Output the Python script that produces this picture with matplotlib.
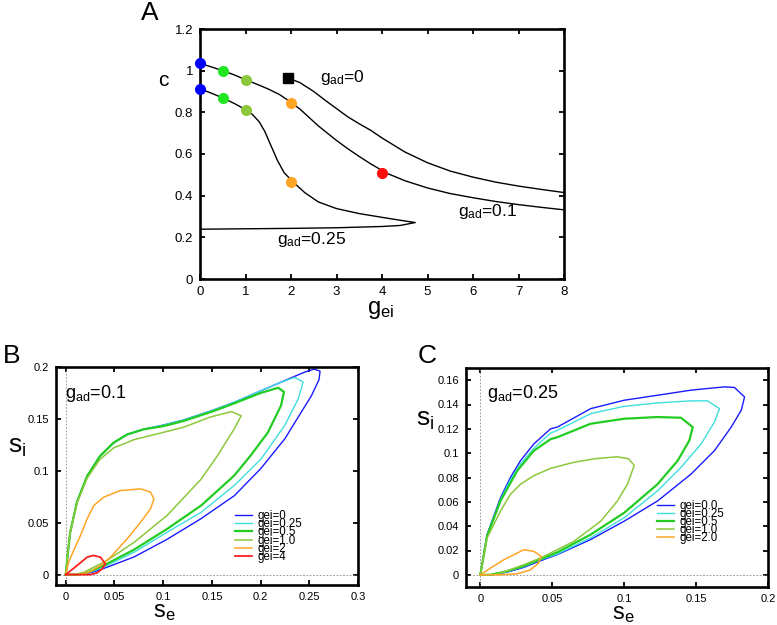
import matplotlib
matplotlib.use("Agg")
import matplotlib.pyplot as plt
from matplotlib.ticker import FormatStrFormatter

plt.rcParams['font.family'] = ['Liberation Sans', 'DejaVu Sans']
plt.rcParams['mathtext.fontset'] = 'custom'
plt.rcParams['mathtext.rm'] = 'Liberation Sans'
plt.rcParams['mathtext.it'] = 'Liberation Sans'
plt.rcParams['mathtext.default'] = 'regular'

# ---------------- panel A data (gei, c) ----------------
a_gad0_x = [1.94, 2.2, 2.5, 2.75, 3.0, 3.25, 3.5, 3.75, 4.0, 4.5, 5.0, 5.5, 6.0, 6.5, 7.0, 7.5, 8.0]
a_gad0_y = [0.965, 0.942, 0.900, 0.858, 0.818, 0.778, 0.745, 0.714, 0.677, 0.610, 0.558, 0.518,
            0.489, 0.465, 0.446, 0.430, 0.415]

a_gad01_x = [0, 0.25, 0.5, 0.75, 1.0, 1.25, 1.5, 1.75, 2.0, 2.2, 2.4, 2.6, 2.8, 3.0, 3.25, 3.5,
             3.75, 4.1, 4.5, 5.0, 5.5, 6.0, 6.5, 7.0, 7.5, 8.0]
a_gad01_y = [1.035, 1.018, 1.0, 0.980, 0.957, 0.935, 0.912, 0.885, 0.848, 0.815, 0.775, 0.735,
             0.700, 0.665, 0.625, 0.588, 0.553, 0.508, 0.472, 0.437, 0.410, 0.390, 0.372, 0.357,
             0.344, 0.332]

a_gad025_x = [0, 0.25, 0.5, 0.75, 1.0, 1.15, 1.3, 1.42, 1.55, 1.7, 1.85, 2.05, 2.3, 2.6, 3.0,
              3.5, 4.0, 4.4, 4.73, 4.4, 4.0, 3.0, 2.0, 1.0, 0]
a_gad025_y = [0.913, 0.892, 0.869, 0.843, 0.813, 0.790, 0.755, 0.710, 0.645, 0.570, 0.510, 0.465,
              0.415, 0.370, 0.338, 0.314, 0.296, 0.282, 0.271, 0.257, 0.252, 0.246, 0.243, 0.241,
              0.239]

dot_gei = [0, 0.5, 1.0, 2.0, 4.0]
dot_c_gad01 = [1.035, 1.0, 0.957, 0.845, 0.508]
dot_c_gad025 = [0.913, 0.869, 0.813, 0.465]
dot_colors = ['#0000ff', '#22e622', '#8cc83c', '#ffa526', '#ff0d0d']
square_gei, square_c = 1.94, 0.965

# ---------------- panel B data (se, si), g_ad=0.1 ----------------
b_labels = ['gei=0', 'gei=0.25', 'gei=0.5', 'gei=1.0', 'gei=2', 'gei=4']
b_se = [
    [0, 0.002, 0.0046, 0.0115, 0.022, 0.035, 0.049, 0.063, 0.08, 0.1, 0.121, 0.15, 0.173, 0.2,
     0.225, 0.245, 0.255, 0.261, 0.260, 0.252, 0.242, 0.225, 0.2, 0.173, 0.139, 0.104, 0.07,
     0.042, 0.03, 0.02, 0.01, 0],
    [0, 0.002, 0.0046, 0.0115, 0.022, 0.035, 0.049, 0.063, 0.08, 0.1, 0.121, 0.15, 0.173, 0.2,
     0.22, 0.235, 0.2436, 0.2385, 0.2247, 0.2006, 0.173, 0.139, 0.104, 0.07, 0.042, 0.03, 0.02,
     0.01, 0],
    [0, 0.002, 0.0046, 0.0115, 0.022, 0.035, 0.049, 0.063, 0.08, 0.1, 0.121, 0.15, 0.173, 0.2,
     0.218, 0.224, 0.221, 0.2075, 0.19, 0.173, 0.139, 0.104, 0.07, 0.042, 0.03, 0.02, 0.01, 0],
    [0, 0.002, 0.0046, 0.0115, 0.022, 0.035, 0.049, 0.07, 0.1, 0.121, 0.149, 0.17, 0.18, 0.173,
     0.156, 0.139, 0.104, 0.07, 0.042, 0.0286, 0.018, 0.008, 0],
    [0, 0.0029, 0.008, 0.015, 0.0219, 0.0287, 0.039, 0.056, 0.0768, 0.087, 0.0905, 0.087,
     0.0768, 0.063, 0.0459, 0.0356, 0.0253, 0.0149, 0],
    [0, 0.0115, 0.0219, 0.0286, 0.0356, 0.0407, 0.0373, 0.032, 0.0253, 0.012, 0],
]
b_si = [
    [0, 0.02, 0.041, 0.070, 0.095, 0.114, 0.127, 0.135, 0.140, 0.144, 0.149, 0.158, 0.166, 0.177,
     0.187, 0.195, 0.198, 0.196, 0.188, 0.172, 0.157, 0.131, 0.102, 0.076, 0.054, 0.034, 0.017,
     0.007, 0.003, 0.0005, 0, 0],
    [0, 0.02, 0.041, 0.070, 0.095, 0.114, 0.127, 0.135, 0.140, 0.144, 0.149, 0.158, 0.166, 0.177,
     0.185, 0.19, 0.1855, 0.169, 0.1437, 0.1116, 0.0859, 0.0601, 0.0408, 0.0215, 0.0087, 0.004,
     0.001, 0, 0],
    [0, 0.02, 0.041, 0.070, 0.095, 0.114, 0.127, 0.135, 0.140, 0.143, 0.148, 0.157, 0.165, 0.175,
     0.18, 0.176, 0.163, 0.137, 0.115, 0.0955, 0.0666, 0.044, 0.024, 0.0103, 0.005, 0.0012, 0, 0],
    [0, 0.02, 0.041, 0.069, 0.093, 0.111, 0.122, 0.130, 0.137, 0.142, 0.152, 0.157, 0.153,
     0.1405, 0.115, 0.092, 0.057, 0.031, 0.0135, 0.007, 0.002, 0, 0],
    [0, 0.012, 0.023, 0.0375, 0.0537, 0.0665, 0.0746, 0.081, 0.0826, 0.0795, 0.073, 0.0634,
     0.0505, 0.0344, 0.0168, 0.0087, 0.003, 0, 0],
    [0, 0.0087, 0.0168, 0.0185, 0.0168, 0.0103, 0.0055, 0.0016, 0, 0, 0],
]
b_colors = ['#1a1aff', '#3fdede', '#22cc22', '#8cc83c', '#ffa526', '#ff2020']
b_widths = [1.0, 1.0, 1.6, 1.1, 1.1, 1.3]

# ---------------- panel C data (se, si), g_ad=0.25 ----------------
c_labels = ['gei=0.0', 'gei=0.25', 'gei=0.5', 'gei=1.0', 'gei=2.0']
c_se = [
    [0, 0.0047, 0.014, 0.0209, 0.0279, 0.0372, 0.0488, 0.0535, 0.0767, 0.1, 0.1232, 0.1465,
     0.1698, 0.1767, 0.1837, 0.1814, 0.1744, 0.1628, 0.1465, 0.1232, 0.1, 0.0767, 0.0535, 0.0419,
     0.0302, 0.0186, 0.007, 0],
    [0, 0.0047, 0.014, 0.0209, 0.0279, 0.0372, 0.0488, 0.0535, 0.0767, 0.1, 0.1232, 0.1465,
     0.158, 0.1663, 0.1628, 0.1535, 0.1395, 0.1232, 0.1, 0.0767, 0.0535, 0.0419, 0.0302, 0.0186,
     0.007, 0],
    [0, 0.0047, 0.014, 0.0256, 0.0372, 0.0488, 0.0535, 0.0767, 0.1, 0.1232, 0.1395, 0.1477,
     0.1453, 0.1372, 0.1232, 0.1, 0.0767, 0.0535, 0.0419, 0.0302, 0.0186, 0.007, 0],
    [0, 0.0047, 0.014, 0.0209, 0.0279, 0.0372, 0.0488, 0.065, 0.08, 0.095, 0.103, 0.107,
     0.1023, 0.0953, 0.0837, 0.0651, 0.0419, 0.0302, 0.0186, 0.0116, 0.0047, 0],
    [0, 0.007, 0.0163, 0.0256, 0.0302, 0.0372, 0.0423, 0.0405, 0.0349, 0.0256, 0.014, 0],
]
c_si = [
    [0, 0.0331, 0.0634, 0.08, 0.0938, 0.1076, 0.12, 0.1214, 0.1366, 0.1435, 0.1476, 0.1518,
     0.1545, 0.154, 0.1462, 0.1352, 0.1214, 0.1021, 0.0828, 0.0607, 0.0441, 0.029, 0.0166, 0.0116,
     0.0061, 0.0022, 0, 0],
    [0, 0.0325, 0.062, 0.078, 0.091, 0.104, 0.1165, 0.1187, 0.1325, 0.1385, 0.1413, 0.143, 0.143,
     0.1366, 0.1256, 0.1076, 0.0883, 0.069, 0.0469, 0.0304, 0.0171, 0.0124, 0.0068, 0.0026, 0, 0],
    [0, 0.032, 0.0607, 0.0855, 0.102, 0.1115, 0.1131, 0.1242, 0.1283, 0.1297, 0.1291, 0.1214,
     0.1104, 0.0938, 0.0745, 0.051, 0.0331, 0.0185, 0.013, 0.0074, 0.003, 0, 0],
    [0, 0.0304, 0.0524, 0.0662, 0.0745, 0.0815, 0.0875, 0.0925, 0.0955, 0.097, 0.0955, 0.09,
     0.0745, 0.0607, 0.0441, 0.0276, 0.0138, 0.0083, 0.0033, 0.0006, 0, 0],
    [0, 0.0055, 0.0124, 0.0179, 0.0207, 0.0193, 0.0152, 0.0097, 0.0041, 0.0008, 0, 0],
]
c_colors = ['#1a1aff', '#3fdede', '#22cc22', '#8cc83c', '#ffa526']
c_widths = [1.0, 1.0, 1.6, 1.1, 1.1]


def style_axes(ax, fs):
    for s in ax.spines.values():
        s.set_linewidth(1.9)
    ax.tick_params(direction='in', top=True, right=True, length=3.5, width=1.3,
                   labelsize=fs, pad=5)
    ax.xaxis.set_major_formatter(FormatStrFormatter('%g'))
    ax.yaxis.set_major_formatter(FormatStrFormatter('%g'))


fig = plt.figure(figsize=(7.77, 6.25), dpi=100)

# ---------------- A ----------------
axA = fig.add_axes([0.2574, 0.5536, 0.4685, 0.4])
axA.plot(a_gad0_x, a_gad0_y, color='k', lw=1.0)
axA.plot(a_gad01_x, a_gad01_y, color='k', lw=1.0)
axA.plot(a_gad025_x, a_gad025_y, color='k', lw=1.0)
for g, c, col in zip(dot_gei, dot_c_gad01, dot_colors):
    axA.plot(g, c, 'o', color=col, ms=8, mec='none', clip_on=False, zorder=5)
for g, c, col in zip(dot_gei, dot_c_gad025, dot_colors):
    axA.plot(g, c, 'o', color=col, ms=8, mec='none', clip_on=False, zorder=5)
axA.plot(square_gei, square_c, 's', color='k', ms=6.5, zorder=5)
axA.set_xlim(0, 8)
axA.set_ylim(0, 1.2)
axA.set_xticks(range(0, 9))
axA.set_yticks([0, 0.2, 0.4, 0.6, 0.8, 1.0, 1.2])
style_axes(axA, 9.5)
axA.text(2.64, 0.966, '$g_{ad}$=0', fontsize=12.5, va='center', ha='left')
axA.text(5.68, 0.322, '$g_{ad}$=0.1', fontsize=12.5, va='center', ha='left')
axA.text(1.69, 0.1875, '$g_{ad}$=0.25', fontsize=12.5, va='center', ha='left')
axA.set_ylabel('c', fontsize=15, rotation=0, va='center', ha='center')
axA.yaxis.set_label_coords(-0.10, 0.796)
axA.set_xlabel('$g_{ei}$', fontsize=17)
axA.xaxis.set_label_coords(0.495, -0.08)

# ---------------- B ----------------
axB = fig.add_axes([0.0721, 0.064, 0.3887, 0.3488])
axB.axhline(0, color='#888888', lw=0.6, ls=(0, (2, 2)))
axB.axvline(0, color='#888888', lw=0.6, ls=(0, (2, 2)))
for xs, ys, col, lw, lab in zip(b_se, b_si, b_colors, b_widths, b_labels):
    axB.plot(xs, ys, color=col, lw=lw, label=lab)
axB.set_xlim(-0.01, 0.3)
axB.set_ylim(-0.01, 0.2)
axB.set_xticks([0, 0.05, 0.1, 0.15, 0.2, 0.25, 0.3])
axB.set_yticks([0, 0.05, 0.1, 0.15, 0.2])
style_axes(axB, 8)
axB.text(0.03, 0.88, '$g_{ad}$=0.1', fontsize=13, transform=axB.transAxes, va='center')
axB.legend(loc='upper left', bbox_to_anchor=(0.575, 0.37), frameon=False, fontsize=8.3,
           handlelength=1.45, handletextpad=0.45, labelspacing=-0.33, borderpad=0)
axB.set_ylabel('$s_i$', fontsize=19, rotation=0, va='center', ha='center')
axB.yaxis.set_label_coords(-0.13, 0.633)
axB.set_xlabel('$s_e$', fontsize=17)
axB.xaxis.set_label_coords(0.36, -0.072)

# ---------------- C ----------------
axC = fig.add_axes([0.5997, 0.0608, 0.3887, 0.3504])
axC.axhline(0, color='#888888', lw=0.6, ls=(0, (2, 2)))
axC.axvline(0, color='#888888', lw=0.6, ls=(0, (2, 2)))
for xs, ys, col, lw, lab in zip(c_se, c_si, c_colors, c_widths, c_labels):
    axC.plot(xs, ys, color=col, lw=lw, label=lab)
axC.set_xlim(-0.01, 0.2)
axC.set_ylim(-0.01, 0.17)
axC.set_xticks([0, 0.05, 0.1, 0.15, 0.2])
axC.set_yticks([0, 0.02, 0.04, 0.06, 0.08, 0.1, 0.12, 0.14, 0.16])
style_axes(axC, 8)
axC.text(0.07, 0.885, '$g_{ad}$=0.25', fontsize=13, transform=axC.transAxes, va='center')
axC.legend(loc='upper left', bbox_to_anchor=(0.615, 0.425), frameon=False, fontsize=8.3,
           handlelength=1.45, handletextpad=0.45, labelspacing=-0.33, borderpad=0)
axC.set_ylabel('$s_i$', fontsize=19, rotation=0, va='center', ha='center')
axC.yaxis.set_label_coords(-0.136, 0.763)
axC.set_xlabel('$s_e$', fontsize=17)
axC.xaxis.set_label_coords(0.52, -0.072)

fig.text(0.193, 0.979, 'A', fontsize=19, ha='center', va='center')
fig.text(0.0154, 0.43, 'B', fontsize=19, ha='center', va='center')
fig.text(0.55, 0.43, 'C', fontsize=19, ha='center', va='center')

fig.savefig('out.png', dpi=100)
